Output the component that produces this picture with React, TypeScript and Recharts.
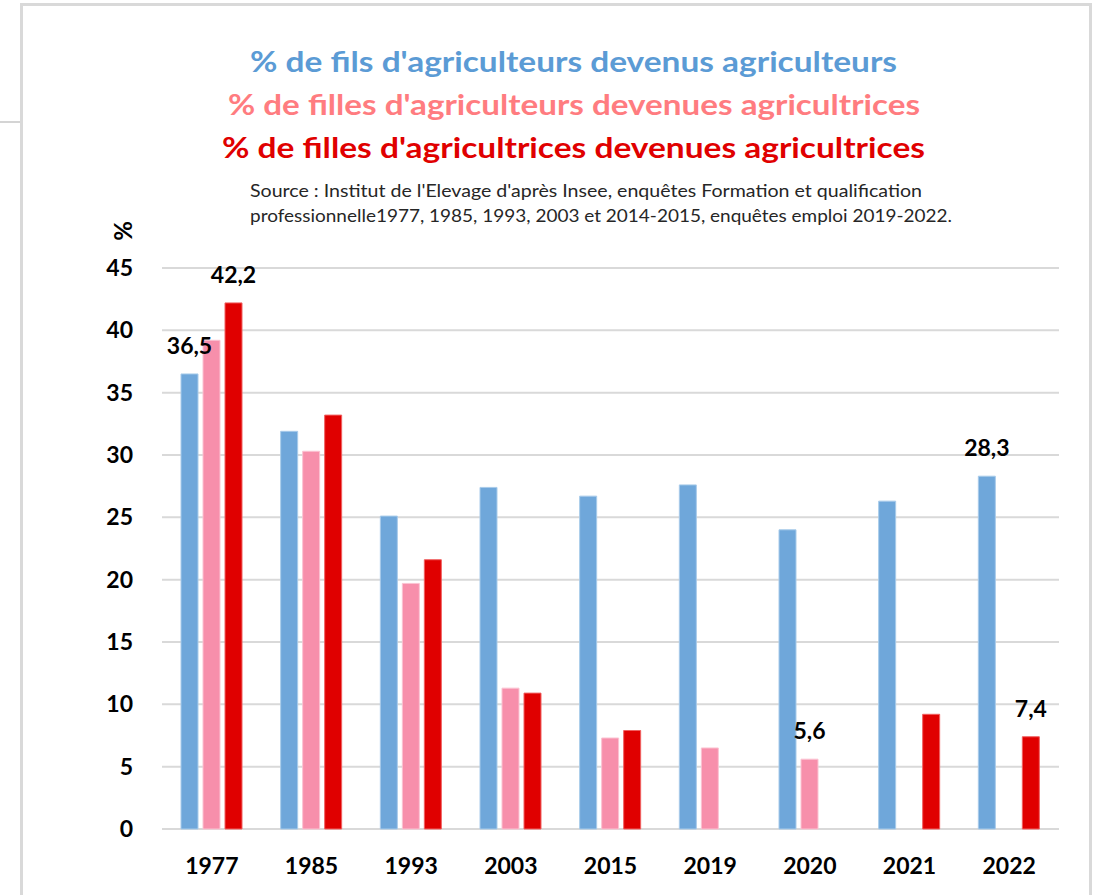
import React from "react";
import { BarChart, Bar, XAxis, YAxis, CartesianGrid, LabelList } from "recharts";

const years = ["1977", "1985", "1993", "2003", "2015", "2019", "2020", "2021", "2022"];
const filsAgriculteurs = [36.5, 31.9, 25.1, 27.4, 26.7, 27.6, 24.0, 26.3, 28.3];
const fillesAgriculteurs = [39.2, 30.3, 19.7, 11.3, 7.3, 6.5, 5.6, null, null];
const fillesAgricultrices = [42.2, 33.2, 21.6, 10.9, 7.9, null, null, 9.2, 7.4];
const yTicks = [0, 5, 10, 15, 20, 25, 30, 35, 40, 45];

const labelledFils = ["1977", "2022"];
const labelledFillesAgriculteurs = ["2020"];
const labelledFillesAgricultrices = ["1977", "2022"];

const titles = [
  "% de fils d'agriculteurs devenus agriculteurs",
  "% de filles d'agriculteurs devenues agricultrices",
  "% de filles d'agricultrices devenues agricultrices",
];
const sourceLines = [
  "Source : Institut de l'Elevage d'après Insee, enquêtes Formation et qualification",
  "professionnelle1977, 1985, 1993,  2003  et 2014-2015,  enquêtes emploi 2019-2022.",
];

const fmt = (v: number | null) => (v == null ? null : String(v).replace(".", ","));

const data = years.map((y, i) => ({
  year: y,
  fils: filsAgriculteurs[i],
  fillesA: fillesAgriculteurs[i],
  fillesF: fillesAgricultrices[i],
  filsLabel: labelledFils.includes(y) ? fmt(filsAgriculteurs[i]) : null,
  fillesALabel: labelledFillesAgriculteurs.includes(y) ? fmt(fillesAgriculteurs[i]) : null,
  fillesFLabel: labelledFillesAgricultrices.includes(y) ? fmt(fillesAgricultrices[i]) : null,
}));

const FONT = "Lato, 'Open Sans', sans-serif";

const renderLabel = (props: any) => {
  const { x, y, width, value } = props;
  if (value == null || value === "") return null;
  return (
    <text
      x={Number(x) + Number(width) / 2}
      y={Number(y) - 20}
      textAnchor="middle"
      fontFamily={FONT}
      fontWeight="bold"
      fontSize={23}
      fill="#000"
    >
      {value}
    </text>
  );
};

export default function App() {
  return (
    <div
      style={{
        position: "absolute",
        left: 0,
        top: 0,
        width: 1097,
        height: 895,
        overflow: "hidden",
        background: "#fff",
      }}
    >
      <div
        style={{
          position: "absolute",
          left: 0,
          top: 121,
          width: 22,
          height: 2,
          background: "#d4d4d4",
        }}
      />
      <div
        style={{
          position: "absolute",
          left: 20,
          top: 3,
          width: 1066,
          height: 1000,
          border: "3px solid #d9d9d9",
          boxSizing: "content-box",
        }}
      />
      <div style={{ position: "absolute", left: 0, top: 0 }}>
        <BarChart
          width={1097}
          height={895}
          data={data}
          margin={{ top: 268, right: 38, left: 0, bottom: 0 }}
          barSize={17}
          barGap={5}
        >
          <CartesianGrid vertical={false} stroke="#d9d9d9" strokeWidth={2} />
          <XAxis
            dataKey="year"
            height={66}
            axisLine={false}
            tickLine={false}
            tickSize={0}
            tickMargin={29}
            tick={{ fontFamily: FONT, fontWeight: "bold", fontSize: 23, fill: "#000" }}
          />
          <YAxis
            width={162}
            domain={[0, 45]}
            ticks={yTicks}
            axisLine={false}
            tickLine={false}
            tickSize={0}
            tickMargin={29}
            tick={{ fontFamily: FONT, fontWeight: "bold", fontSize: 23, fill: "#000" }}
          />
          <Bar dataKey="fils" fill="#6fa7da" stroke="#a8cbea" strokeWidth={1} isAnimationActive={false}>
            <LabelList dataKey="filsLabel" content={renderLabel} />
          </Bar>
          <Bar dataKey="fillesA" fill="#f78fab" stroke="#fbc3d2" strokeWidth={1} isAnimationActive={false}>
            <LabelList dataKey="fillesALabel" content={renderLabel} />
          </Bar>
          <Bar dataKey="fillesF" fill="#e00000" stroke="#f06060" strokeWidth={1} isAnimationActive={false}>
            <LabelList dataKey="fillesFLabel" content={renderLabel} />
          </Bar>
        </BarChart>
      </div>
      <svg
        width={1097}
        height={895}
        style={{ position: "absolute", left: 0, top: 0, pointerEvents: "none" }}
      >
        <text x={250} y={72} fontFamily={FONT} fontWeight="bold" fontSize={28} fill="#5b9bd5" textLength={647} lengthAdjust="spacingAndGlyphs">
          {titles[0]}
        </text>
        <text x={228} y={115} fontFamily={FONT} fontWeight="bold" fontSize={28} fill="#ff7c80" textLength={692} lengthAdjust="spacingAndGlyphs">
          {titles[1]}
        </text>
        <text x={222} y={158} fontFamily={FONT} fontWeight="bold" fontSize={28} fill="#e00000" textLength={703} lengthAdjust="spacingAndGlyphs">
          {titles[2]}
        </text>
        <text x={250} y={197} fontFamily={FONT} fontSize={17} fill="#262626" textLength={672} lengthAdjust="spacingAndGlyphs">
          {sourceLines[0]}
        </text>
        <text x={250} y={222} fontFamily={FONT} fontSize={17} fill="#262626" textLength={702} lengthAdjust="spacingAndGlyphs">
          {sourceLines[1]}
        </text>
        <text
          x={0}
          y={0}
          transform="translate(122,231) rotate(-90)"
          textAnchor="middle"
          dominantBaseline="central"
          fontFamily={FONT}
          fontWeight="bold"
          fontSize={24}
          fill="#000"
        >
          %
        </text>
      </svg>
    </div>
  );
}
